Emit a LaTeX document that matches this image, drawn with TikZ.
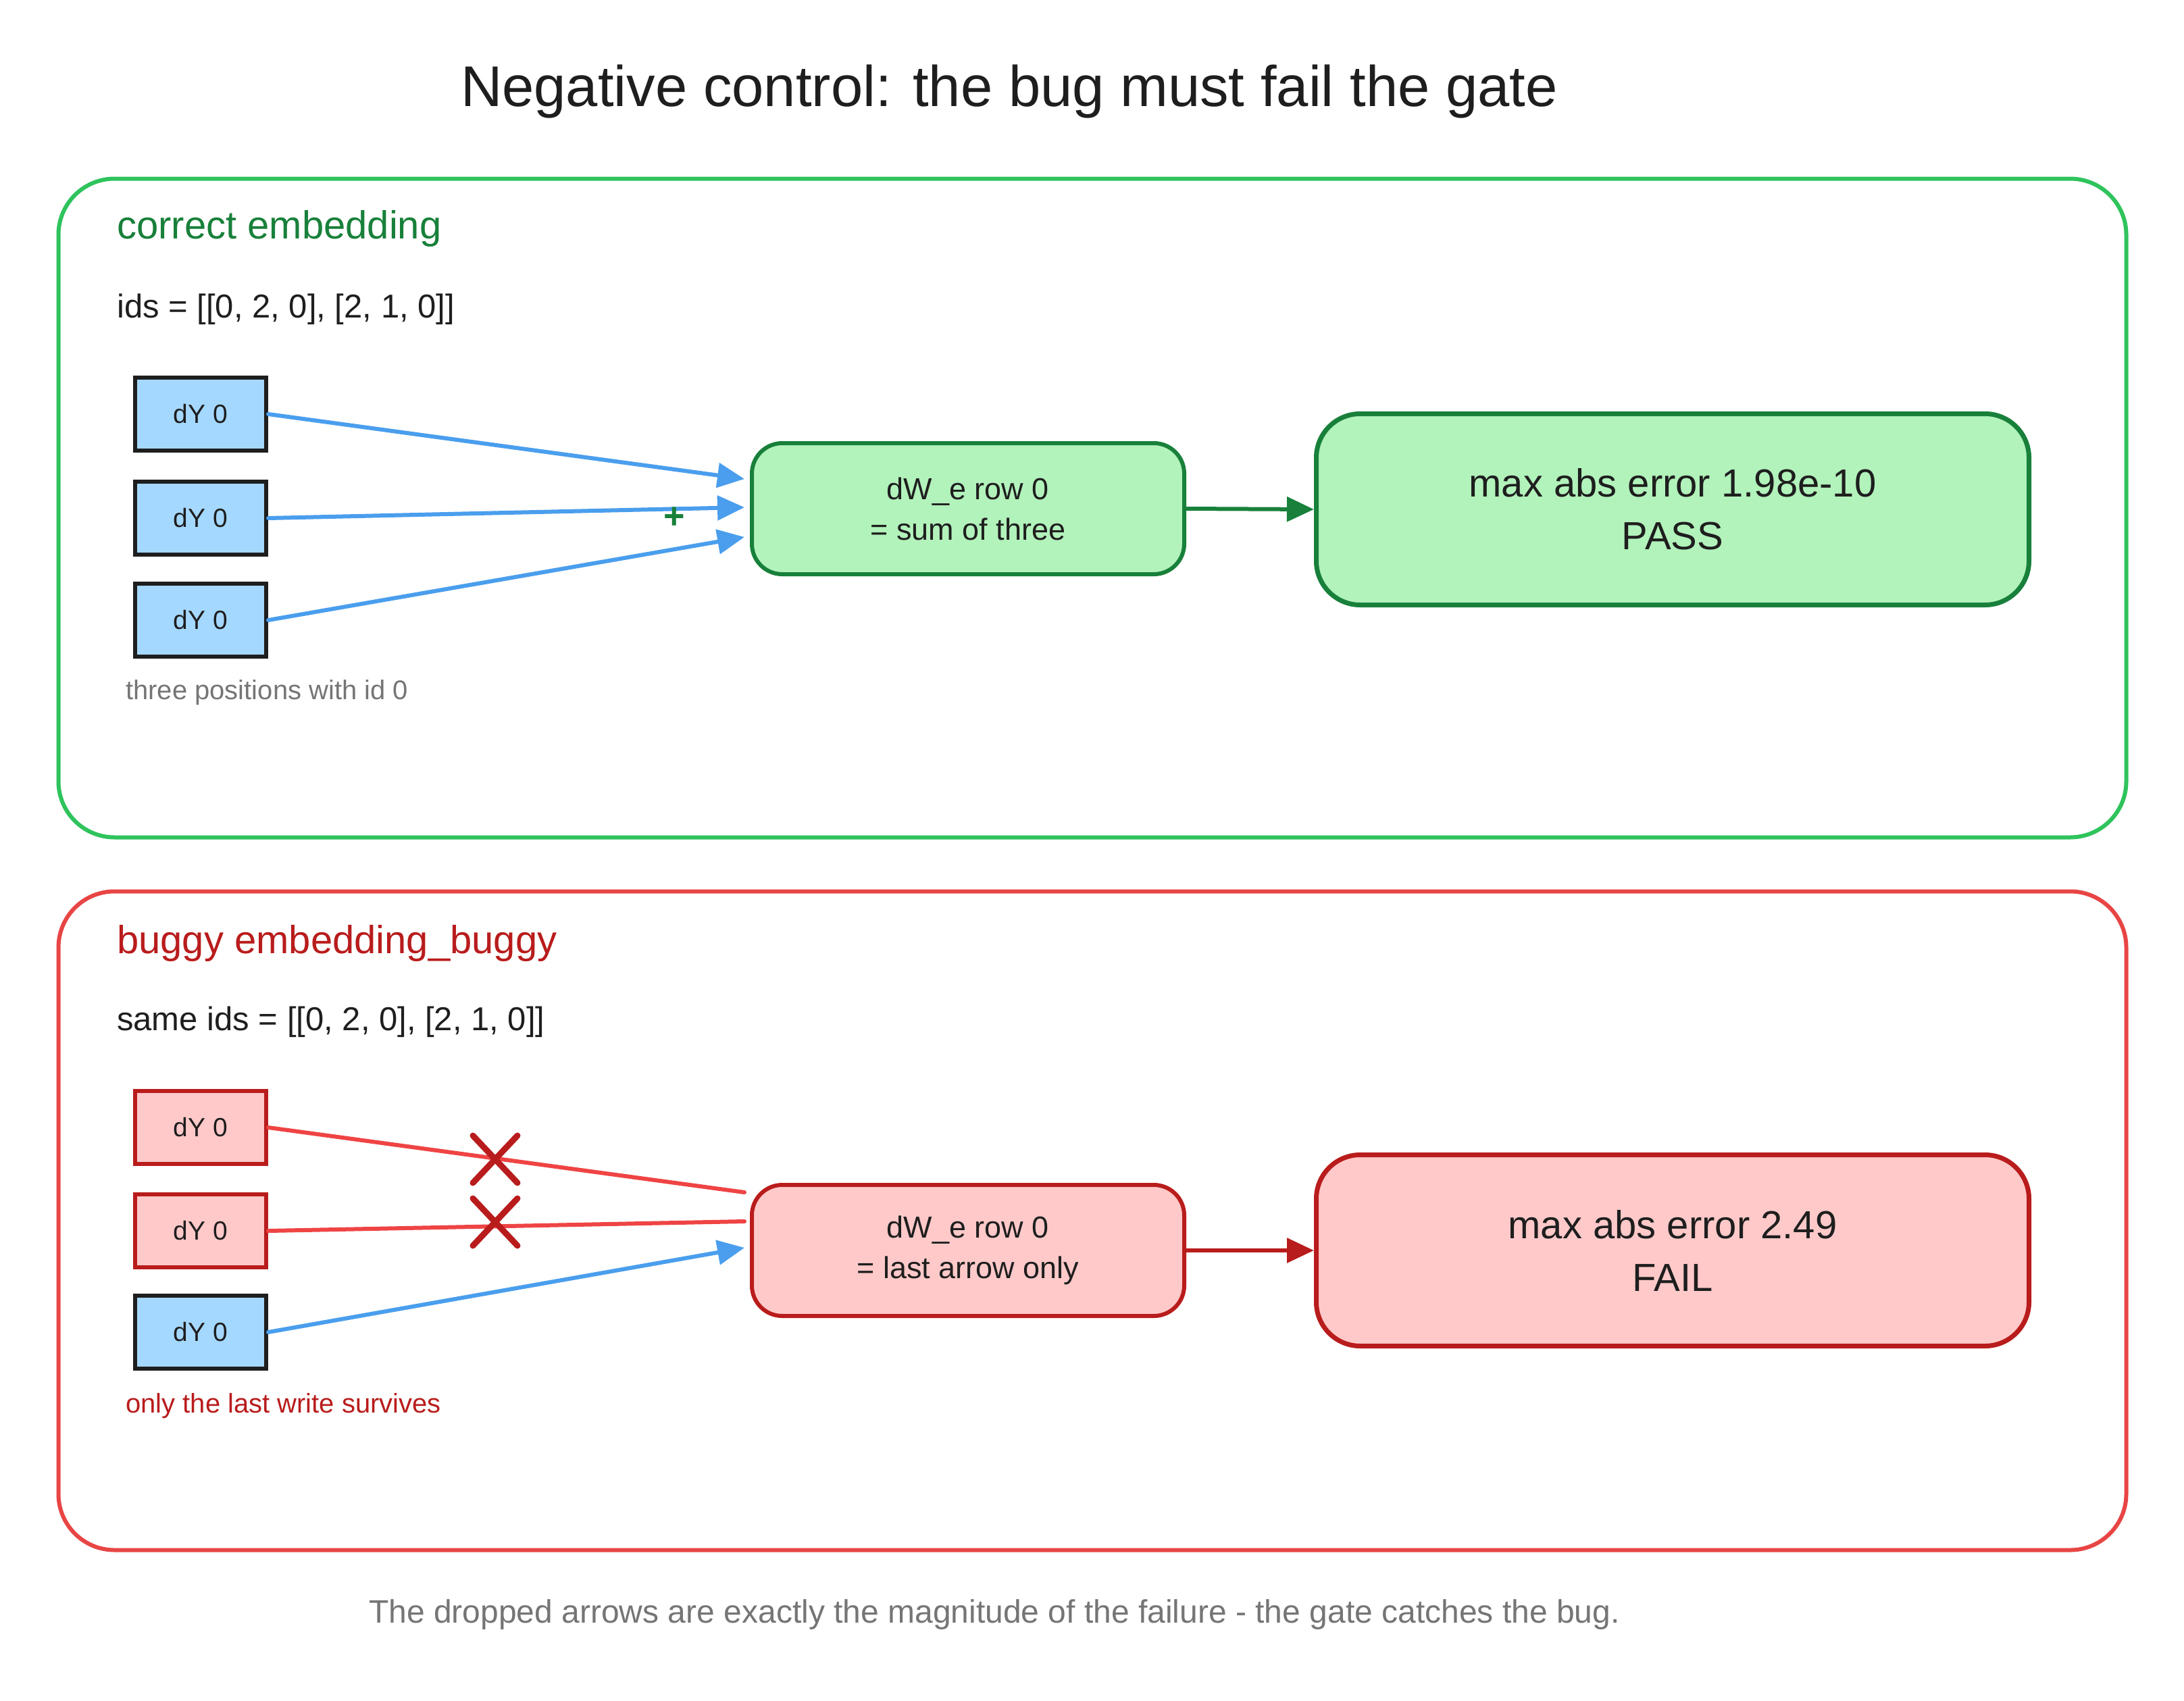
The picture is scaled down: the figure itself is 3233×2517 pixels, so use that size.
\documentclass[tikz,border=0pt]{standalone}
\usepackage{fontspec}
\setmainfont{Liberation Sans}
\usetikzlibrary{arrows.meta,shapes.misc,calc}
\definecolor{gpanel}{HTML}{2FC35C}
\definecolor{gdark}{HTML}{18803A}
\definecolor{gfill}{HTML}{B2F2BB}
\definecolor{bfill}{HTML}{A5D8FF}
\definecolor{barrow}{HTML}{4A9EED}
\definecolor{rpanel}{HTML}{E84545}
\definecolor{rfill}{HTML}{FFC9C9}
\definecolor{rdark}{HTML}{B91C1C}
\definecolor{rline}{HTML}{EF4444}
\definecolor{ink}{HTML}{1E1E1E}
\definecolor{note}{HTML}{757575}
\tikzset{
  panelbox/.style={draw=#1, line width=6pt, rounded corners=83pt, minimum width=3061pt, minimum height=975pt, inner sep=0pt},
  dybox/.style={draw=#1, line width=6pt, minimum width=194pt, minimum height=108pt, inner sep=0pt, font=\fontsize{39}{44}\selectfont, text=ink},
  sumbox/.style={line width=6pt, rounded corners=45pt, minimum width=640pt, minimum height=194pt, align=center, font=\fontsize{45}{60}\selectfont, text=ink},
  resbox/.style={line width=7pt, rounded corners=65pt, minimum width=1055pt, minimum height=283pt, align=center, font=\fontsize{58}{78}\selectfont, text=ink},
  lbl/.style={anchor=west, inner sep=0pt},
  conn/.style={line width=6pt, line cap=round},
  tip/.style={-{Triangle[length=40pt,width=36pt]}},
  xmark/.style={minimum width=66pt, minimum height=70pt, inner sep=0pt, outer sep=0pt},
  xstroke/.style={draw=rdark, line width=9pt, line cap=round}
}
\begin{document}
\begin{tikzpicture}[x=1pt,y=-1pt]
\useasboundingbox (0,0) rectangle (3233,2517);
\fill[white] (0,0) rectangle (3233,2517);

\node[font=\fontsize{85}{96}\selectfont, text=ink] (title) at (1494,136) {Negative control: the bug must fail the gate};

% ---------- correct panel ----------
\node[panelbox=gpanel] (p1) at (1617,752) {};
\node[lbl, font=\fontsize{58}{66}\selectfont, text=gdark] (t1) at (173,338) {correct embedding};
\node[lbl, font=\fontsize{49}{56}\selectfont, text=ink] (ids1) at (173,458) {ids = [[0, 2, 0], [2, 1, 0]]};

\node[dybox=ink, fill=bfill] (a1) at (297,613) {dY 0};
\node[dybox=ink, fill=bfill] (a2) at (297,767) {dY 0};
\node[dybox=ink, fill=bfill] (a3) at (297,918) {dY 0};
\node[lbl, font=\fontsize{40}{46}\selectfont, text=note] (n1) at (186,1025) {three positions with id 0};

\node[sumbox, draw=gdark, fill=gfill] (s1) at (1433,753) {dW\_e row 0\\= sum of three};
\node[resbox, draw=gdark, fill=gfill] (r1) at (2476,754) {max abs error 1.98e-10\\PASS};

\draw[conn, barrow, tip] (a1.east) -- ([xshift=-8pt,yshift=44pt]s1.west);
\draw[conn, barrow, tip] (a2.east) -- ([xshift=-8pt,yshift=2pt]s1.west);
\draw[conn, barrow, tip] (a3.east) -- ([xshift=-8pt,yshift=-42pt]s1.west);
\node[text=gdark, font=\fontsize{54}{54}\selectfont\bfseries] (plus) at (998,767) {+};
\draw[conn, gdark, tip] (s1.east) -- (r1.west);

% ---------- buggy panel ----------
\node[panelbox=rpanel] (p2) at (1617,1807) {};
\node[lbl, font=\fontsize{58}{66}\selectfont, text=rdark] (t2) at (173,1396) {buggy embedding\_buggy};
\node[lbl, font=\fontsize{49}{56}\selectfont, text=ink] (ids2) at (173,1513) {same ids = [[0, 2, 0], [2, 1, 0]]};

\node[dybox=rdark, fill=rfill] (b1) at (297,1669) {dY 0};
\node[dybox=rdark, fill=rfill] (b2) at (297,1822) {dY 0};
\node[dybox=ink, fill=bfill] (b3) at (297,1972) {dY 0};
\node[lbl, font=\fontsize{40}{46}\selectfont, text=rdark] (n2) at (186,2081) {only the last write survives};

\node[sumbox, draw=rdark, fill=rfill] (s2) at (1433,1851) {dW\_e row 0\\= last arrow only};
\node[resbox, draw=rdark, fill=rfill] (r2) at (2476,1851) {max abs error 2.49\\FAIL};

\draw[conn, rline] (b1.east) -- ([xshift=-8pt,yshift=86pt]s2.west);
\draw[conn, rline] (b2.east) -- ([xshift=-8pt,yshift=43pt]s2.west);
\draw[conn, barrow, tip] (b3.east) -- ([xshift=-8pt,yshift=4pt]s2.west);
\node[xmark] (x1) at (733,1716) {};
\node[xmark] (x2) at (733,1809) {};
\draw[xstroke] (x1.north west) -- (x1.south east) (x1.north east) -- (x1.south west);
\draw[xstroke] (x2.north west) -- (x2.south east) (x2.north east) -- (x2.south west);
\draw[conn, rdark, tip] (s2.east) -- (r2.west);

\node[font=\fontsize{48}{56}\selectfont, text=note] (foot) at (1472,2390) {The dropped arrows are exactly the magnitude of the failure - the gate catches the bug.};
\end{tikzpicture}
\end{document}
